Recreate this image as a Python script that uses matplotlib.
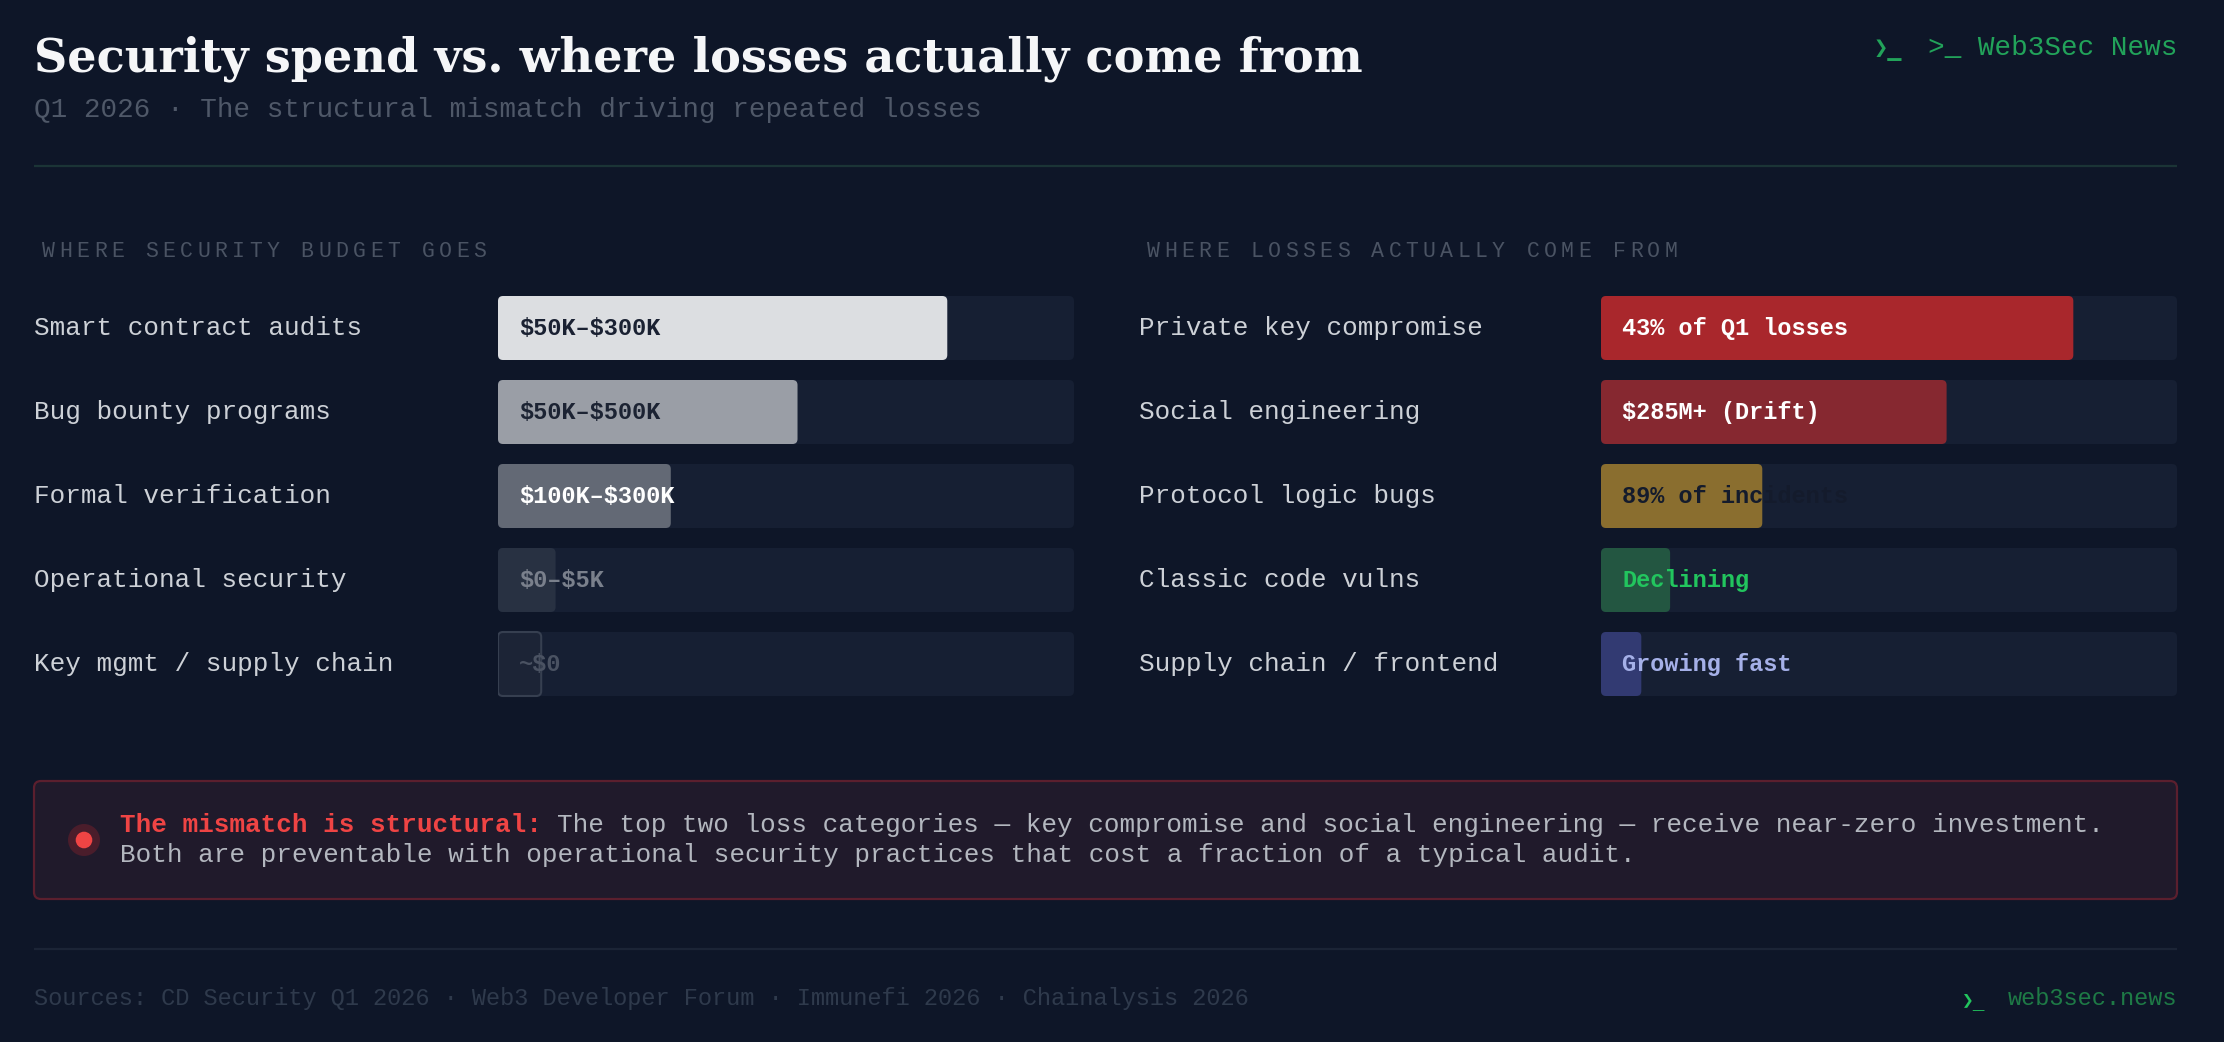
import matplotlib
matplotlib.use("Agg")
import matplotlib.pyplot as plt
from matplotlib.patches import FancyBboxPatch, Circle
import matplotlib.transforms as mtransforms

# ---- data ----
budget_items = ["Smart contract audits", "Bug bounty programs", "Formal verification",
                "Operational security", "Key mgmt / supply chain"]
budget_share = [78, 52, 30, 10, 7.5]
budget_labels = ["$50K–$300K", "$50K–$500K", "$100K–$300K", "$0–$5K", "~$0"]

loss_items = ["Private key compromise", "Social engineering", "Protocol logic bugs",
              "Classic code vulns", "Supply chain / frontend"]
loss_share = [82, 60, 28, 12, 7]
loss_labels = ["43% of Q1 losses", "$285M+ (Drift)", "89% of incidents", "Declining", "Growing fast"]

sources = "Sources: CD Security Q1 2026 · Web3 Developer Forum · Immunefi 2026 · Chainalysis 2026"

# ---- style ----
BG = "#0e1628"
TRACK = "#161f33"
MONO = ["Liberation Mono", "DejaVu Sans Mono", "DejaVu Sans"]
budget_fill = ["#dcdee1", "#9a9ea6", "#636975", "#283142", "#1c2436"]
budget_txt = ["#1a2132", "#1c2333", "#ffffff", "#7a808c", "#4a5262"]
loss_fill = ["#a9272c", "#862830", "#8a6e2f", "#235641", "#323a72"]
loss_txt = ["#ffffff", "#ffffff", "#141b2c", "#22c55e", "#a5b0e8"]

W, H = 2224, 1042
fig = plt.figure(figsize=(W / 100, H / 100), dpi=100)
fig.patch.set_facecolor(BG)

# overlay axes in pixel units (y down)
ov = fig.add_axes([0, 0, 1, 1])
ov.set_xlim(0, W)
ov.set_ylim(H, 0)
ov.axis("off")
ov.set_zorder(0)


def fx(x):
    return x / W


def fy(y):
    return 1 - y / H


def txt(x, y, s, **kw):
    kw.setdefault("family", MONO)
    kw.setdefault("va", "baseline")
    return fig.text(fx(x), fy(y), s, parse_math=False, **kw)


# title, auto-fit to width
title = txt(34, 71, "Security spend vs. where losses actually come from",
            family="DejaVu Serif", weight="bold", color="#f5f6f8", fontsize=36)
fig.canvas.draw()
w = title.get_window_extent().width
title.set_fontsize(36 * 1330 / w)

txt(34, 117, "Q1 2026 · The structural mismatch driving repeated losses",
    color="#4f5868", fontsize=19.9)

txt(2177, 55, ">_ Web3Sec News", color="#22a35a", fontsize=19.9, ha="right")
txt(1874, 55, "❯_", family=["DejaVu Sans Mono", "DejaVu Sans"], weight="bold",
    color="#22a35a", fontsize=17)

ov.plot([34, 2177], [166, 166], color="#1b3436", lw=1.6, solid_capstyle="butt")


def spaced(x, y, s, pitch=17.25):
    for k, ch in enumerate(s):
        txt(x + k * pitch, y, ch, color="#4a5363", fontsize=15.5)


spaced(42, 257, "WHERE SECURITY BUDGET GOES")
spaced(1147, 257, "WHERE LOSSES ACTUALLY COME FROM")

# ---- bar panels ----
ROW = 84
BAR_H = 64 / ROW
PANEL_W = 576
top = 286
bot = top + ROW * 5


def panel(left_px, label_px, items, shares, labels, fills, txtcols):
    ax = fig.add_axes([fx(left_px), fy(bot), PANEL_W / W, (bot - top) / H])
    ax.set_xlim(0, 100)
    ax.set_ylim(len(items) - 0.5, -0.5)
    ax.axis("off")
    ax.patch.set_alpha(0)
    ax.set_zorder(2)
    xu = 100 / PANEL_W
    r = 5 * xu
    ma = (1 / ROW) / xu
    tr = mtransforms.blended_transform_factory(fig.transFigure, ax.transData)
    off = mtransforms.offset_copy(tr, fig=fig, x=0, y=-7, units="dots")
    offd = mtransforms.offset_copy(ax.transData, fig=fig, x=0, y=-7, units="dots")
    for i, (item, v, lab) in enumerate(zip(items, shares, labels)):
        ax.add_patch(FancyBboxPatch((0, i - BAR_H / 2), 100, BAR_H,
                                    boxstyle=f"round,pad=0,rounding_size={r}",
                                    mutation_aspect=ma, fc=TRACK, ec="none", zorder=1))
        ec = "#363f50" if fills[i] == "#1c2436" else "none"
        ax.add_patch(FancyBboxPatch((0, i - BAR_H / 2), v, BAR_H,
                                    boxstyle=f"round,pad=0,rounding_size={r}",
                                    mutation_aspect=ma, fc=fills[i], ec=ec, lw=1.5,
                                    zorder=2))
        ax.text(21 * xu, i, lab, transform=offd, family=MONO, weight="bold",
                color=txtcols[i], fontsize=17, va="baseline", ha="left", zorder=3,
                clip_on=False, parse_math=False)
        ax.text(fx(label_px), i, item, transform=off, family=MONO, color="#cdd1d7",
                fontsize=18.7, va="baseline", ha="left", clip_on=False, parse_math=False)
    return ax


panel(498, 34, budget_items, budget_share, budget_labels, budget_fill, budget_txt)
panel(1601, 1139, loss_items, loss_share, loss_labels, loss_fill, loss_txt)

# ---- callout ----
ov.add_patch(FancyBboxPatch((34, 781), 2143, 118, boxstyle="round,pad=0,rounding_size=7",
                            fc="#201a2b", ec="#5b1f2e", lw=1.6))
ov.add_patch(Circle((84, 840), 16, fc="#4a1d2b", ec="none"))
ov.add_patch(Circle((84, 840), 8.3, fc="#ef4444", ec="none"))

body_fs = 18.7
adv = body_fs * 100 / 72 * 0.6
lead = "The mismatch is structural:"
txt(120.5, 832, lead, weight="bold", color="#ef4444", fontsize=body_fs)
txt(120.5 + (len(lead) + 1) * adv, 832,
    "The top two loss categories — key compromise and social engineering — receive near-zero investment.",
    color="#b3b7bf", fontsize=body_fs)
txt(120.5, 862,
    "Both are preventable with operational security practices that cost a fraction of a typical audit.",
    color="#b3b7bf", fontsize=body_fs)

# ---- footer ----
ov.plot([34, 2177], [949, 949], color="#1b2436", lw=1.6, solid_capstyle="butt")
txt(34, 1005, sources, color="#2f3a4c", fontsize=17)
txt(2177, 1005, "web3sec.news", color="#1e7a46", fontsize=17, ha="right")
txt(1962, 1005, "❯_", family=["DejaVu Sans Mono", "DejaVu Sans"],
    color="#22c55e", fontsize=14)

fig.savefig("out.png", dpi=100, facecolor=BG)
